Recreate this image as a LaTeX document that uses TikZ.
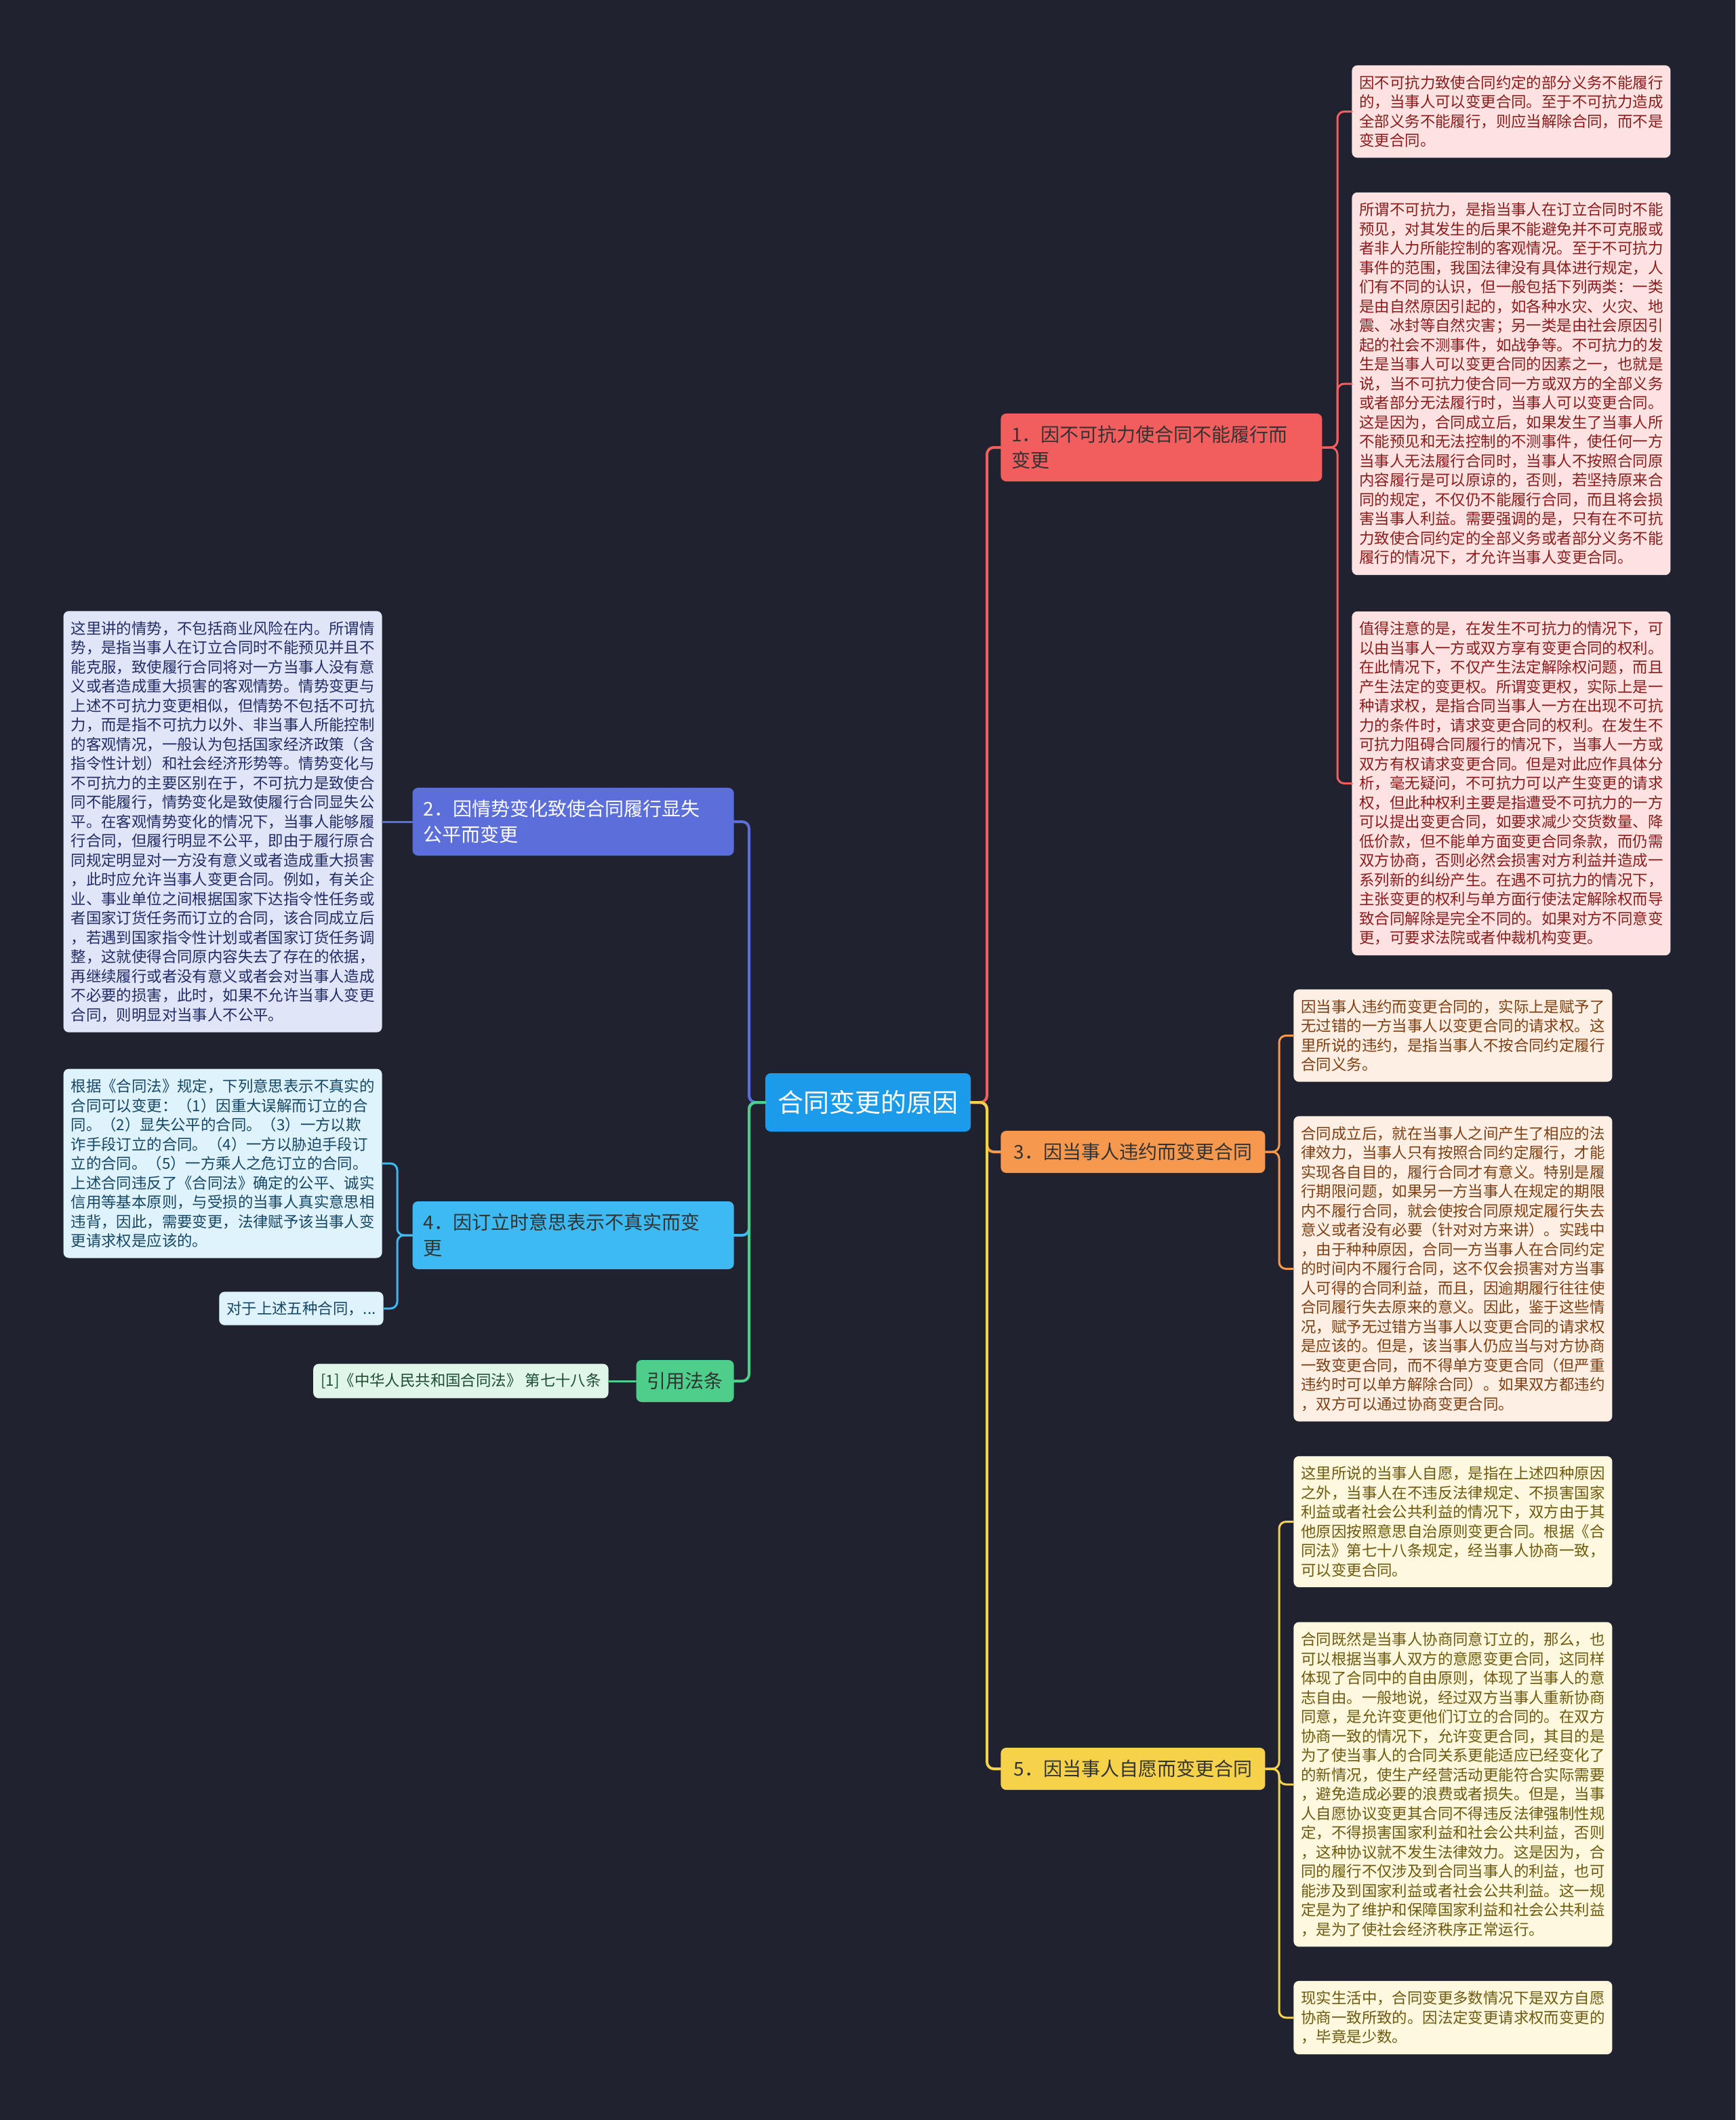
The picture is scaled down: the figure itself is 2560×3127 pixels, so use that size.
\documentclass[tikz,border=0pt]{standalone}
\usepackage{fontspec}
\setmainfont{Noto Sans CJK SC}
\definecolor{bg}{HTML}{20232F}
\definecolor{cC}{HTML}{1C9BEA}
\definecolor{cR}{HTML}{F25E5E}
\definecolor{cO}{HTML}{F7984F}
\definecolor{cY}{HTML}{F6D24B}
\definecolor{cP}{HTML}{5B6ED9}
\definecolor{cB}{HTML}{3DBAF2}
\definecolor{cG}{HTML}{4DCF8B}
\definecolor{lR}{HTML}{FDE2E2}\definecolor{tR}{HTML}{8A1C1C}
\definecolor{lO}{HTML}{FDEFE3}\definecolor{tO}{HTML}{7F3F12}
\definecolor{lY}{HTML}{FDF8DE}\definecolor{tY}{HTML}{6E5A0E}
\definecolor{lP}{HTML}{E1E5F8}\definecolor{tP}{HTML}{222C66}
\definecolor{lB}{HTML}{DFF3FC}\definecolor{tB}{HTML}{164766}
\definecolor{lG}{HTML}{E0F6E9}\definecolor{tG}{HTML}{1D4D30}
\tikzset{
  px/.style={x=0.5pt,y=-0.5pt,line join=round,line cap=round},
  topic/.style={rounded corners=4pt,inner xsep=8pt,inner ysep=9pt,
    font=\fontsize{14}{19}\selectfont,align=left,text={black!80}},
  leaf/.style={rounded corners=4pt,inner xsep=5.5pt,inner ysep=7.5pt,
    text width=224pt,font=\fontsize{11.2}{14.25}\selectfont,align=left},
  short/.style={rounded corners=4pt,inner xsep=5.5pt,inner ysep=7pt,
    font=\fontsize{11.2}{14.25}\selectfont},
  link/.style={line width=1.5pt,rounded corners=5pt}
}

\begin{document}
\begin{tikzpicture}[px]
  \fill[bg] (0,0) rectangle (2560,3127);
  \node[fill=cC,text=white,rounded corners=4pt,minimum width=151.5pt,minimum height=43pt,
    font=\fontsize{19}{22}\selectfont] (R) at (1280.5,1626) {合同变更的原因};
  \node[topic,fill=cR,anchor=west,text width=221pt] (B1) at (1476,660)
    {1．因不可抗力使合同不能履行而\\变更};
  \node[topic,fill=cO,anchor=west,minimum width=195pt] (B3) at (1476,1699) {3．因当事人违约而变更合同};
  \node[topic,fill=cY,anchor=west,minimum width=195pt] (B5) at (1476,2609) {5．因当事人自愿而变更合同};
  \node[topic,fill=cP,text=white,anchor=east,text width=221pt] (B2) at (1083,1212)
    {2．因情势变化致使合同履行显失\\公平而变更};
  \node[topic,fill=cB,anchor=east,text width=221pt] (B4) at (1083,1822)
    {4．因订立时意思表示不真实而变\\更};
  \node[topic,fill=cG,anchor=east] (B6) at (1083,2037) {引用法条};
  \coordinate (FR) at (1456,1626);
  \coordinate (FL) at (1105,1626);
  \draw[link,line width=2pt,cR] (R.east) -- (FR) |- (B1.west);
  \draw[link,line width=2pt,cO] (R.east) -- (FR) |- (B3.west);
  \draw[link,line width=2pt,cY] (R.east) -- (FR) |- (B5.west);
  \draw[link,line width=2pt,cP] (R.west) -- (FL) |- (B2.east);
  \draw[link,line width=2pt,cB] (R.west) -- (FL) |- (B4.east);
  \draw[link,line width=2pt,cG] (R.west) -- (FL) |- (B6.east);

  \node[leaf,fill=lR,text=tR,anchor=west] (L1a) at (1994,164.5)
    {因不可抗力致使合同约定的部分义务不能履行\\
     的，当事人可以变更合同。至于不可抗力造成\\
     全部义务不能履行，则应当解除合同，而不是\\
     变更合同。};
  \node[leaf,fill=lR,text=tR,anchor=west] (L1b) at (1994,566)
    {所谓不可抗力，是指当事人在订立合同时不能\\
     预见，对其发生的后果不能避免并不可克服或\\
     者非人力所能控制的客观情况。至于不可抗力\\
     事件的范围，我国法律没有具体进行规定，人\\
     们有不同的认识，但一般包括下列两类：一类\\
     是由自然原因引起的，如各种水灾、火灾、地\\
     震、冰封等自然灾害；另一类是由社会原因引\\
     起的社会不测事件，如战争等。不可抗力的发\\
     生是当事人可以变更合同的因素之一，也就是\\
     说，当不可抗力使合同一方或双方的全部义务\\
     或者部分无法履行时，当事人可以变更合同。\\
     这是因为，合同成立后，如果发生了当事人所\\
     不能预见和无法控制的不测事件，使任何一方\\
     当事人无法履行合同时，当事人不按照合同原\\
     内容履行是可以原谅的，否则，若坚持原来合\\
     同的规定，不仅仍不能履行合同，而且将会损\\
     害当事人利益。需要强调的是，只有在不可抗\\
     力致使合同约定的全部义务或者部分义务不能\\
     履行的情况下，才允许当事人变更合同。};
  \node[leaf,fill=lR,text=tR,anchor=west] (L1c) at (1994,1155.5)
    {值得注意的是，在发生不可抗力的情况下，可\\
     以由当事人一方或双方享有变更合同的权利。\\
     在此情况下，不仅产生法定解除权问题，而且\\
     产生法定的变更权。所谓变更权，实际上是一\\
     种请求权，是指合同当事人一方在出现不可抗\\
     力的条件时，请求变更合同的权利。在发生不\\
     可抗力阻碍合同履行的情况下，当事人一方或\\
     双方有权请求变更合同。但是对此应作具体分\\
     析，毫无疑问，不可抗力可以产生变更的请求\\
     权，但此种权利主要是指遭受不可抗力的一方\\
     可以提出变更合同，如要求减少交货数量、降\\
     低价款，但不能单方面变更合同条款，而仍需\\
     双方协商，否则必然会损害对方利益并造成一\\
     系列新的纠纷产生。在遇不可抗力的情况下，\\
     主张变更的权利与单方面行使法定解除权而导\\
     致合同解除是完全不同的。如果对方不同意变\\
     更，可要求法院或者仲裁机构变更。};
  \coordinate (F1) at (1973,660);
  \draw[link,cR] (B1.east) -- (F1) |- (L1a.west);
  \draw[link,cR] (B1.east) -- (F1) |- (L1b.west);
  \draw[link,cR] (B1.east) -- (F1) |- (L1c.west);

  \node[leaf,fill=lO,text=tO,anchor=west] (L3a) at (1908,1527.5)
    {因当事人违约而变更合同的，实际上是赋予了\\
     无过错的一方当事人以变更合同的请求权。这\\
     里所说的违约，是指当事人不按合同约定履行\\
     合同义务。};
  \node[leaf,fill=lO,text=tO,anchor=west] (L3b) at (1908,1871.5)
    {合同成立后，就在当事人之间产生了相应的法\\
     律效力，当事人只有按照合同约定履行，才能\\
     实现各自目的，履行合同才有意义。特别是履\\
     行期限问题，如果另一方当事人在规定的期限\\
     内不履行合同，就会使按合同原规定履行失去\\
     意义或者没有必要（针对对方来讲）。实践中\\
     ，由于种种原因，合同一方当事人在合同约定\\
     的时间内不履行合同，这不仅会损害对方当事\\
     人可得的合同利益，而且，因逾期履行往往使\\
     合同履行失去原来的意义。因此，鉴于这些情\\
     况，赋予无过错方当事人以变更合同的请求权\\
     是应该的。但是，该当事人仍应当与对方协商\\
     一致变更合同，而不得单方变更合同（但严重\\
     违约时可以单方解除合同）。如果双方都违约\\
     ，双方可以通过协商变更合同。};
  \coordinate (F3) at (1887,1699);
  \draw[link,cO] (B3.east) -- (F3) |- (L3a.west);
  \draw[link,cO] (B3.east) -- (F3) |- (L3b.west);

  \node[leaf,fill=lY,text=tY,anchor=west] (L5a) at (1908,2244.5)
    {这里所说的当事人自愿，是指在上述四种原因\\
     之外，当事人在不违反法律规定、不损害国家\\
     利益或者社会公共利益的情况下，双方由于其\\
     他原因按照意思自治原则变更合同。根据《合\\
     同法》第七十八条规定，经当事人协商一致，\\
     可以变更合同。};
  \node[leaf,fill=lY,text=tY,anchor=west] (L5b) at (1908,2632)
    {合同既然是当事人协商同意订立的，那么，也\\
     可以根据当事人双方的意愿变更合同，这同样\\
     体现了合同中的自由原则，体现了当事人的意\\
     志自由。一般地说，经过双方当事人重新协商\\
     同意，是允许变更他们订立的合同的。在双方\\
     协商一致的情况下，允许变更合同，其目的是\\
     为了使当事人的合同关系更能适应已经变化了\\
     的新情况，使生产经营活动更能符合实际需要\\
     ，避免造成必要的浪费或者损失。但是，当事\\
     人自愿协议变更其合同不得违反法律强制性规\\
     定，不得损害国家利益和社会公共利益，否则\\
     ，这种协议就不发生法律效力。这是因为，合\\
     同的履行不仅涉及到合同当事人的利益，也可\\
     能涉及到国家利益或者社会公共利益。这一规\\
     定是为了维护和保障国家利益和社会公共利益\\
     ，是为了使社会经济秩序正常运行。};
  \node[leaf,fill=lY,text=tY,anchor=west] (L5c) at (1908,2976)
    {现实生活中，合同变更多数情况下是双方自愿\\
     协商一致所致的。因法定变更请求权而变更的\\
     ，毕竟是少数。};
  \coordinate (F5) at (1887,2609);
  \draw[link,cY] (B5.east) -- (F5) |- (L5a.west);
  \draw[link,cY] (B5.east) -- (F5) |- (L5b.west);
  \draw[link,cY] (B5.east) -- (F5) |- (L5c.west);

  \node[leaf,fill=lP,text=tP,anchor=east] (L2a) at (564,1212)
    {这里讲的情势，不包括商业风险在内。所谓情\\
     势，是指当事人在订立合同时不能预见并且不\\
     能克服，致使履行合同将对一方当事人没有意\\
     义或者造成重大损害的客观情势。情势变更与\\
     上述不可抗力变更相似，但情势不包括不可抗\\
     力，而是指不可抗力以外、非当事人所能控制\\
     的客观情况，一般认为包括国家经济政策（含\\
     指令性计划）和社会经济形势等。情势变化与\\
     不可抗力的主要区别在于，不可抗力是致使合\\
     同不能履行，情势变化是致使履行合同显失公\\
     平。在客观情势变化的情况下，当事人能够履\\
     行合同，但履行明显不公平，即由于履行原合\\
     同规定明显对一方没有意义或者造成重大损害\\
     ，此时应允许当事人变更合同。例如，有关企\\
     业、事业单位之间根据国家下达指令性任务或\\
     者国家订货任务而订立的合同，该合同成立后\\
     ，若遇到国家指令性计划或者国家订货任务调\\
     整，这就使得合同原内容失去了存在的依据，\\
     再继续履行或者没有意义或者会对当事人造成\\
     不必要的损害，此时，如果不允许当事人变更\\
     合同，则明显对当事人不公平。};
  \draw[link,cP] (B2.west) -- (L2a.east);

  \node[leaf,fill=lB,text=tB,anchor=east] (L4a) at (564,1716)
    {根据《合同法》规定，下列意思表示不真实的\\
     合同可以变更：（1）因重大误解而订立的合\\
     同。（2）显失公平的合同。（3）一方以欺\\
     诈手段订立的合同。（4）一方以胁迫手段订\\
     立的合同。（5）一方乘人之危订立的合同。\\
     上述合同违反了《合同法》确定的公平、诚实\\
     信用等基本原则，与受损的当事人真实意思相\\
     违背，因此，需要变更，法律赋予该当事人变\\
     更请求权是应该的。};
  \node[short,fill=lB,text=tB,anchor=east] (L4b) at (566,1930) {对于上述五种合同，...};
  \coordinate (F4) at (586,1822);
  \draw[link,cB] (B4.west) -- (F4) |- (L4a.east);
  \draw[link,cB] (B4.west) -- (F4) |- (L4b.east);

  \node[short,fill=lG,text=tG,anchor=east] (L6a) at (898,2037) {[1]《中华人民共和国合同法》 第七十八条};
  \draw[link,cG] (B6.west) -- (L6a.east);
\end{tikzpicture}
\end{document}
